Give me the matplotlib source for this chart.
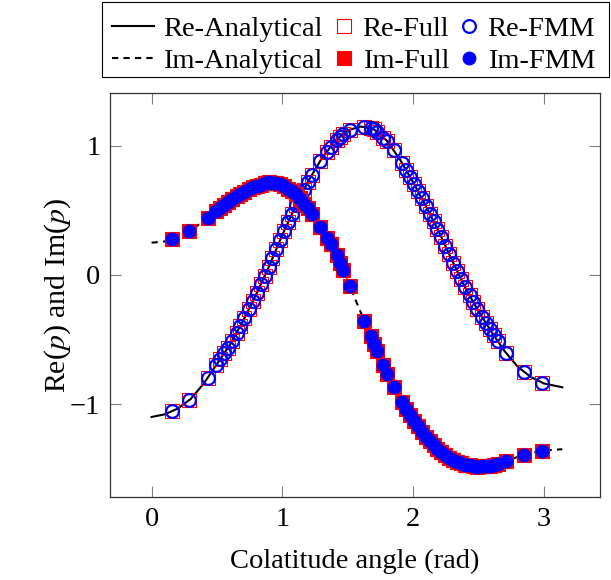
import numpy as np
import matplotlib.pyplot as plt
from matplotlib.lines import Line2D
from matplotlib.patches import Rectangle

plt.rcParams['font.family'] = 'serif'
plt.rcParams['font.serif'] = ['Liberation Serif', 'DejaVu Serif']
plt.rcParams['mathtext.fontset'] = 'stix'
plt.rcParams['font.size'] = 20.5

# analytical solution, sampled along the colatitude
theta_ana = [0.0, 0.1, 0.2, 0.3, 0.4, 0.5, 0.6, 0.7, 0.8, 0.9, 1.0, 1.1, 1.2, 1.3, 1.4, 1.5,
             1.6, 1.7, 1.8, 1.9, 2.0, 2.1, 2.2, 2.3, 2.4, 2.5, 2.6, 2.7, 2.8, 2.9, 3.0, 3.1416]
re_ana = [-1.10, -1.08, -1.035, -0.96, -0.84, -0.69, -0.54, -0.355, -0.15, 0.07, 0.31, 0.53,
          0.73, 0.90, 1.035, 1.12, 1.15, 1.13, 1.04, 0.895, 0.72, 0.53, 0.33, 0.11, -0.10,
          -0.28, -0.44, -0.59, -0.71, -0.79, -0.84, -0.87]
im_ana = [0.25, 0.26, 0.29, 0.345, 0.42, 0.50, 0.58, 0.64, 0.69, 0.72, 0.70, 0.63, 0.51, 0.36,
          0.185, -0.045, -0.29, -0.53, -0.76, -0.96, -1.12, -1.26, -1.36, -1.43, -1.47,
          -1.485, -1.475, -1.445, -1.41, -1.38, -1.36, -1.35]

# numerical solutions (Full and FMM coincide)
theta_num = [0.157, 0.290, 0.430, 0.495, 0.525, 0.555, 0.585, 0.615, 0.650, 0.680, 0.710, 0.745,
             0.775, 0.805, 0.835, 0.865, 0.895, 0.925, 0.955, 0.985, 1.015, 1.045, 1.075, 1.105,
             1.135, 1.165, 1.195, 1.225, 1.290, 1.340, 1.370, 1.415, 1.440, 1.465, 1.515,
             1.627, 1.677, 1.702, 1.727, 1.772, 1.802, 1.852, 1.917, 1.947, 1.977, 2.007, 2.037,
             2.067, 2.097, 2.127, 2.157, 2.187, 2.217, 2.247, 2.277, 2.307, 2.337, 2.367, 2.397,
             2.432, 2.462, 2.492, 2.527, 2.557, 2.587, 2.617, 2.647, 2.712, 2.852, 2.985]
re_num = [-1.054, -0.968, -0.795, -0.698, -0.653, -0.608, -0.563, -0.512, -0.448, -0.392, -0.335,
          -0.263, -0.201, -0.139, -0.073, -0.007, 0.059, 0.13, 0.202, 0.274, 0.343, 0.409, 0.475,
          0.54, 0.60, 0.66, 0.72, 0.773, 0.883, 0.954, 0.995, 1.048, 1.069, 1.090, 1.125,
          1.145, 1.135, 1.128, 1.106, 1.065, 1.037, 0.965, 0.865, 0.813, 0.76, 0.707, 0.65,
          0.593, 0.536, 0.476, 0.416, 0.356, 0.293, 0.227, 0.161, 0.095, 0.032, -0.031, -0.094,
          -0.158, -0.212, -0.266, -0.323, -0.371, -0.419, -0.466, -0.511, -0.604, -0.752, -0.833]
im_num = [0.277, 0.34, 0.444, 0.496, 0.52, 0.544, 0.568, 0.589, 0.61, 0.628, 0.645, 0.663,
          0.678, 0.692, 0.70, 0.71, 0.719, 0.715, 0.709, 0.703, 0.69, 0.668, 0.648, 0.624,
          0.588, 0.552, 0.516, 0.473, 0.375, 0.29, 0.238, 0.151, 0.093, 0.036, -0.082,
          -0.355, -0.475, -0.535, -0.592, -0.696, -0.764, -0.864, -0.987, -1.035, -1.083, -1.13,
          -1.172, -1.214, -1.256, -1.287, -1.317, -1.347, -1.372, -1.393, -1.414, -1.433, -1.445,
          -1.457, -1.469, -1.475, -1.479, -1.484, -1.482, -1.479, -1.476, -1.47, -1.461, -1.441,
          -1.394, -1.363]

fig = plt.figure(figsize=(6.11, 5.80), dpi=100)
ax = fig.add_axes([0.18, 0.1431, 0.802, 0.6966])

ms = 9.6
l_re, = ax.plot(theta_ana, re_ana, color='black', lw=1.5)
m_re_full, = ax.plot(theta_num, re_num, ls='none', marker='s', ms=ms, mfc='none',
                     mec='red', mew=0.8)
m_re_fmm, = ax.plot(theta_num, re_num, ls='none', marker='o', ms=ms - 0.4, mfc='none',
                    mec='blue', mew=1.6)
l_im, = ax.plot(theta_ana, im_ana, color='black', lw=1.5, ls=(0, (3, 2.5)))
m_im_full, = ax.plot(theta_num, im_num, ls='none', marker='s', ms=ms, mfc='red',
                     mec='red', mew=0.8)
m_im_fmm, = ax.plot(theta_num, im_num, ls='none', marker='o', ms=ms - 0.4, mfc='blue',
                    mec='blue', mew=0.8)

ax.set_xlim(-0.318, 3.43)
ax.set_ylim(-1.72, 1.41)
ax.set_xticks([0, 1, 2, 3])
ax.set_yticks([-1, 0, 1])
ax.tick_params(direction='in', top=True, right=True, length=8, width=0.8,
               color='#808080', pad=7)
for s in ax.spines.values():
    s.set_linewidth(0.9)
    s.set_color('#333333')

ax.set_xlabel('Colatitude angle (rad)', labelpad=12)
ax.set_ylabel('Re($p$) and Im($p$)', labelpad=-2, fontsize=21.5)

# legend: three columns, each with its own handle width
kw = dict(loc='upper left', frameon=False, borderpad=0, borderaxespad=0,
          labelspacing=0.22, fontsize=20.5, numpoints=1)
fig.legend([l_re, l_im], ['Re-Analytical', 'Im-Analytical'],
           bbox_to_anchor=(112 / 611, 0.972), handlelength=1.47, handletextpad=0.33, **kw)
fig.legend([m_re_full, m_im_full], ['Re-Full', 'Im-Full'],
           bbox_to_anchor=(337 / 611, 0.972), handlelength=0.5, handletextpad=0.4, **kw)
fig.legend([m_re_fmm, m_im_fmm], ['Re-FMM', 'Im-FMM'],
           bbox_to_anchor=(462 / 611, 0.972), handlelength=0.5, handletextpad=0.4, **kw)
fig.patches.append(Rectangle((102 / 611, 1 - 77 / 580), 507 / 611, 75 / 580,
                             transform=fig.transFigure, fill=False, ec='black', lw=0.8))

fig.savefig('out.png', dpi=100)
